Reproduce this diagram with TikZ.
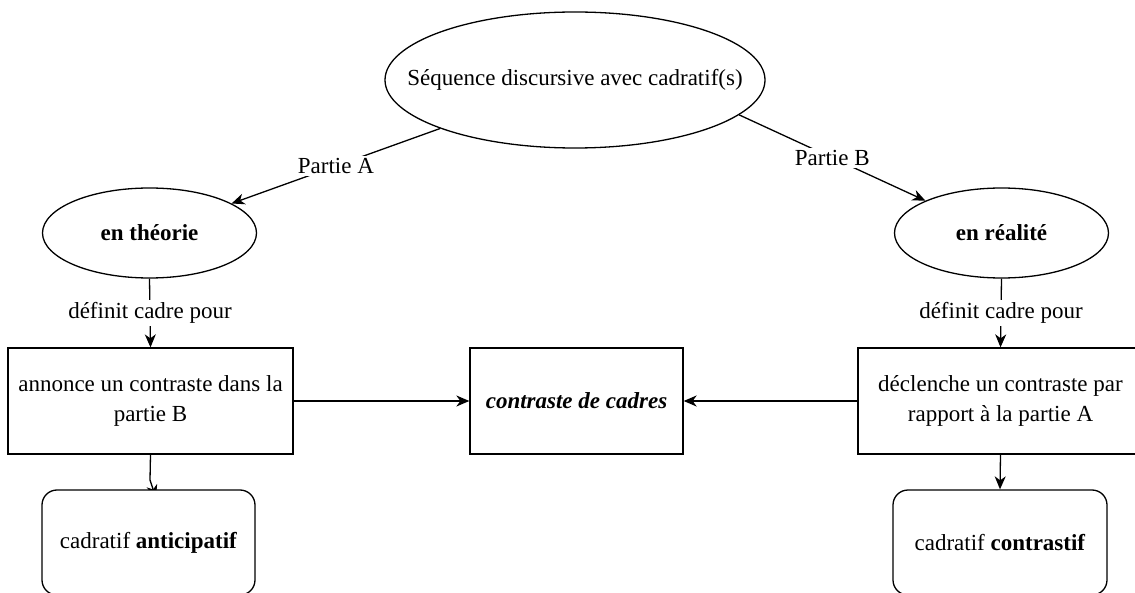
\documentclass[tikz,border=0pt]{standalone}
\usepackage{fontspec}
\setmainfont{LiberationSerif-Regular.ttf}[
  BoldFont=LiberationSerif-Bold.ttf,
  ItalicFont=LiberationSerif-Italic.ttf,
  BoldItalicFont=LiberationSerif-BoldItalic.ttf]
\usetikzlibrary{shapes.geometric,arrows.meta}

\begin{document}
\begin{tikzpicture}[x=1pt,y=-1pt,
  every node/.style={font=\fontsize{23}{30}\selectfont, inner sep=0pt},
  line/.style={line width=1.3pt, draw=black},
  arrow/.style={line, -{Stealth[length=13pt,width=11pt,inset=4pt]}},
  oval/.style={ellipse, draw=black, line width=1.3pt, fill=white},
  box/.style={rectangle, draw=black, line width=1.3pt, fill=white, align=center},
  softbox/.style={box, rounded corners=15pt},
  tag/.style={fill=white, inner sep=2.5pt}]

\useasboundingbox (0,0) rectangle (1135,593);

% top concept
\node[oval, minimum width=380pt, minimum height=136pt] (seq) at (575,80)
  {\makebox[0pt][c]{Séquence discursive avec cadratif(s)}};

% the two parts
\node[oval, minimum width=214pt, minimum height=90pt] (theo) at (149.5,233) {\textbf{en théorie}};
\node[oval, minimum width=214pt, minimum height=90pt] (real) at (1001.5,233) {\textbf{en réalité}};

% frame boxes
\node[box, minimum width=285pt, minimum height=106pt] (annonce) at (150.5,401)
  {annonce un contraste dans la\\partie B};
\node[box, minimum width=285pt, minimum height=106pt] (declenche) at (1000.5,401)
  {déclenche un contraste par\\rapport à la partie A};
\node[box, minimum width=213pt, minimum height=106pt] (contraste) at (576.5,401)
  {\textbf{\textit{contraste de cadres}}};

% connectors from the top concept
\draw[arrow] (seq) -- node[tag, midway] (pa) {Partie A} (theo);
\draw[arrow] (seq.-12.6) -- node[tag, midway] (pb) {Partie B} (real.157.4);

% "définit cadre pour"
\draw[arrow] (theo.south) -- node[tag, midway] (da) {définit cadre pour} (annonce.north);
\draw[arrow] (real.south) -- node[tag, midway] (db) {définit cadre pour} (declenche.north);

% contrast arrows
\draw[arrow] (annonce.east) -- (contraste.west);
\draw[arrow] (declenche.west) -- (contraste.east);

% cadratif types; the left arrow's head is tucked under its box
\coordinate (antip) at (156,498);
\draw[arrow] (annonce.south) -- (150,480) -- (antip);
\node[softbox, minimum width=213pt, minimum height=105pt] (anticip) at (148.5,542.5)
  {cadratif \textbf{anticipatif}};
\node[softbox, minimum width=214pt, minimum height=105pt] (contrastif) at (1000,542.5)
  {cadratif \textbf{contrastif}};
\draw[arrow] (declenche.south) -- (contrastif.north);

\end{tikzpicture}
\end{document}
